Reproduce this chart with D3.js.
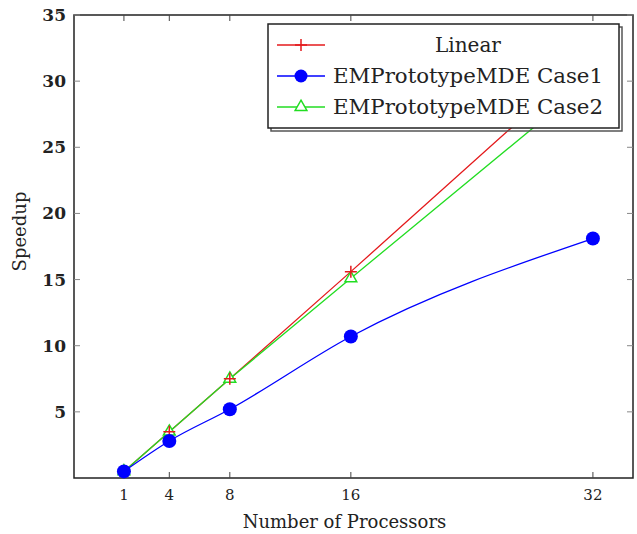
<!DOCTYPE html>
<html>
<head>
<meta charset="utf-8">
<script src="https://cdn.jsdelivr.net/npm/d3@7"></script>
<style>
  body { margin: 0; background: #fff; }
  text { font-family: "DejaVu Serif", "Liberation Serif", serif; fill: #222; }
</style>
</head>
<body>
<div id="chart"></div>
<script>
const processors = [1, 4, 8, 16, 32];
const linear = [0.5, 3.5, 7.5, 15.6, 32];
const case1 = [0.5, 2.8, 5.2, 10.7, 18.1];
const case2 = [0.5, 3.5, 7.5, 15.1, 30.2];
const yTicks = [5, 10, 15, 20, 25, 30, 35];
const seriesNames = ["Linear", "EMPrototypeMDE Case1", "EMPrototypeMDE Case2"];

const margin = {top: 15, right: 4, bottom: 56, left: 74};
const width = 637 - margin.left - margin.right;
const height = 534 - margin.top - margin.bottom;

const svg = d3.select("#chart")
    .append("svg")
    .attr("width", 637)
    .attr("height", 534)
    .append("g")
    .attr("transform", `translate(${margin.left},${margin.top})`);

const xScale = d3.scaleLinear().domain([-2.3, 34.65]).range([0, width]);
const yScale = d3.scaleLinear().domain([0, 35]).range([height, 0]);

// frame
svg.append("rect")
    .attr("width", width).attr("height", height)
    .attr("fill", "none").attr("stroke", "#222").attr("stroke-width", 1.5);

// inward ticks on all four sides
const tickLen = 6;
svg.selectAll(".xt-b").data(processors).enter().append("line")
    .attr("x1", d => xScale(d)).attr("x2", d => xScale(d))
    .attr("y1", height).attr("y2", height - tickLen)
    .attr("stroke", "#444");
svg.selectAll(".xt-t").data(processors).enter().append("line")
    .attr("x1", d => xScale(d)).attr("x2", d => xScale(d))
    .attr("y1", 0).attr("y2", tickLen)
    .attr("stroke", "#444");
svg.selectAll(".yt-l").data(yTicks).enter().append("line")
    .attr("x1", 0).attr("x2", tickLen)
    .attr("y1", d => yScale(d)).attr("y2", d => yScale(d))
    .attr("stroke", "#888");
svg.selectAll(".yt-r").data(yTicks).enter().append("line")
    .attr("x1", width).attr("x2", width - tickLen)
    .attr("y1", d => yScale(d)).attr("y2", d => yScale(d))
    .attr("stroke", "#888");

// tick labels
svg.selectAll(".xl").data(processors).enter().append("text")
    .attr("x", d => xScale(d)).attr("y", height + 22)
    .attr("text-anchor", "middle").style("font-size", "15px")
    .text(d => d);
svg.selectAll(".yl").data(yTicks).enter().append("text")
    .attr("x", -8).attr("y", d => yScale(d) + 6)
    .attr("text-anchor", "end").style("font-size", "17px")
    .style("font-weight", "bold")
    .text(d => d);

// axis titles
svg.append("text")
    .attr("x", width / 2 - 9).attr("y", height + 50)
    .attr("text-anchor", "middle").style("font-size", "18px")
    .text("Number of Processors");
svg.append("text")
    .attr("transform", `translate(${-48},${height / 2 - 15}) rotate(-90)`)
    .attr("text-anchor", "middle").style("font-size", "18px")
    .text("Speedup");

const colors = ["#e41a1c", "#0000ff", "#22dd22"];
const straight = d3.line().x((d, i) => xScale(processors[i])).y(d => yScale(d));
const curved = d3.line().x((d, i) => xScale(processors[i])).y(d => yScale(d)).curve(d3.curveMonotoneX);

const plot = svg.append("g");

plot.append("path").datum(linear)
    .attr("fill", "none").attr("stroke", colors[0]).attr("stroke-width", 1.3)
    .attr("d", straight);
plot.append("path").datum(case2)
    .attr("fill", "none").attr("stroke", colors[2]).attr("stroke-width", 1.3)
    .attr("d", straight);
plot.append("path").datum(case1)
    .attr("fill", "none").attr("stroke", colors[1]).attr("stroke-width", 1.3)
    .attr("d", curved);

function plus(g, x, y, color, s) {
    g.append("path")
        .attr("d", `M${x - s},${y}H${x + s}M${x},${y - s}V${y + s}`)
        .attr("stroke", color).attr("stroke-width", 1.5);
}
function tri(g, x, y, color, s) {
    g.append("path")
        .attr("d", d3.symbol().type(d3.symbolTriangle).size(s)())
        .attr("transform", `translate(${x},${y})`)
        .attr("fill", "white").attr("stroke", color).attr("stroke-width", 1.5);
}

case2.forEach((v, i) => tri(plot, xScale(processors[i]), yScale(v), colors[2], 60));
linear.forEach((v, i) => plus(plot, xScale(processors[i]), yScale(v), colors[0], 6));
plot.selectAll(".dot").data(case1).enter().append("circle")
    .attr("cx", (d, i) => xScale(processors[i]))
    .attr("cy", d => yScale(d))
    .attr("r", 7)
    .attr("fill", colors[1]);

// legend
const lg = svg.append("g").attr("transform", `translate(${268 - margin.left},${24 - margin.top})`);
lg.append("rect").attr("x", 3).attr("y", 3).attr("width", 351).attr("height", 104)
    .attr("fill", "none").attr("stroke", "#555").attr("stroke-width", 1.5);
lg.append("rect").attr("width", 351).attr("height", 104)
    .attr("fill", "white").attr("stroke", "#222").attr("stroke-width", 1.5);

const rows = [21, 52, 83];
rows.forEach((y, i) => {
    lg.append("line").attr("x1", 9).attr("x2", 57).attr("y1", y).attr("y2", y)
        .attr("stroke", colors[i]).attr("stroke-width", 1.3);
});
plus(lg, 33, rows[0], colors[0], 6);
lg.append("circle").attr("cx", 33).attr("cy", rows[1]).attr("r", 6.5).attr("fill", colors[1]);
tri(lg, 33, rows[2], colors[2], 60);

lg.selectAll(".lt").data(seriesNames).enter().append("text")
    .attr("x", (d, i) => i === 0 ? 200 : 65)
    .attr("y", (d, i) => rows[i] + 7)
    .attr("text-anchor", (d, i) => i === 0 ? "middle" : "start")
    .attr("textLength", (d, i) => i === 0 ? null : 270)
    .attr("lengthAdjust", "spacingAndGlyphs")
    .style("font-size", "20px")
    .text(d => d);
</script>
</body>
</html>
